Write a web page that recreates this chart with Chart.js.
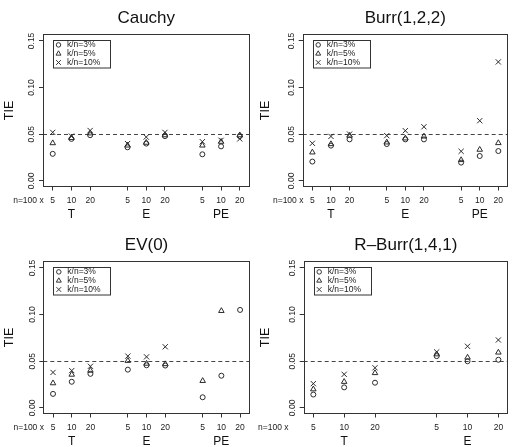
<!DOCTYPE html>
<html>
<head>
<meta charset="utf-8">
<script src="https://cdn.jsdelivr.net/npm/chart.js@4.4.1/dist/chart.umd.min.js"></script>
<style>
  body { margin: 0; background: #fff; }
  #wrap { position: relative; width: 513px; height: 447px; }
  canvas { position: absolute; }
</style>
</head>
<body>
<div id="wrap">
  <canvas id="cauchy" width="256" height="224" style="left:0;top:0"></canvas>
  <canvas id="burr" width="257" height="224" style="left:256px;top:0"></canvas>
  <canvas id="ev" width="256" height="220" style="left:0;top:227px"></canvas>
  <canvas id="rburr" width="257" height="220" style="left:256px;top:227px"></canvas>
</div>
<script>
const methods = ['T', 'E', 'PE']
const sampleSizes = ['5', '10', '20']
const seriesNames = ['k/n=3%', 'k/n=5%', 'k/n=10%']
const yTickValues = [0, 0.05, 0.10, 0.15]
const nominalLevel = 0.05

// order: T5 T10 T20 E5 E10 E20 PE5 PE10 PE20
const cauchy3 = [0.029, 0.045, 0.049, 0.036, 0.040, 0.048, 0.0285, 0.037, 0.048]
const cauchy5 = [0.0405, 0.046, 0.051, 0.038, 0.041, 0.049, 0.038, 0.042, 0.049]
const cauchy10 = [0.052, 0.048, 0.054, 0.040, 0.047, 0.052, 0.042, 0.0435, 0.045]

const burr3 = [0.0207, 0.0378, 0.0445, 0.0395, 0.0445, 0.0445, 0.0196, 0.0267, 0.032]
const burr5 = [0.0306, 0.0395, 0.0485, 0.0413, 0.0456, 0.0477, 0.0224, 0.0335, 0.0406]
const burr10 = [0.0403, 0.0477, 0.0502, 0.0485, 0.0538, 0.058, 0.0317, 0.0645, 0.1275]

const ev3 = [0.015, 0.028, 0.0365, 0.041, 0.0457, 0.0454, 0.0114, 0.0345, 0.105]
const ev5 = [0.0265, 0.0357, 0.040, 0.0505, 0.0475, 0.047, 0.029, 0.104, null]
const ev10 = [0.038, 0.040, 0.0446, 0.0555, 0.0547, 0.0655, null, null, null]

// order: T5 T10 T20 E5 E10 E20
const rburr3 = [0.0143, 0.022, 0.027, 0.0555, 0.050, 0.0516]
const rburr5 = [0.020, 0.028, 0.0374, 0.0575, 0.054, 0.0594]
const rburr10 = [0.026, 0.036, 0.043, 0.060, 0.066, 0.0728]

Chart.defaults.font.family = '"Liberation Sans", Arial, Helvetica, sans-serif'
Chart.defaults.color = '#222'

const markStyles = [
  { pointStyle: 'circle', radius: 2.5 },
  { pointStyle: 'triangle', radius: 3.2 },
  { pointStyle: 'crossRot', radius: 3.7 }
]

// position on the x scale: groups of three with a gap of one
function xPos(g, k) { return g * 4 + k + 1 }

const rPlot = {
  id: 'rPlot',
  beforeDatasetsDraw(chart) {
    const { ctx, chartArea } = chart
    const y = chart.scales.y.getPixelForValue(nominalLevel)
    ctx.save()
    ctx.strokeStyle = '#444'
    ctx.lineWidth = 1
    ctx.setLineDash([4, 3])
    ctx.beginPath()
    ctx.moveTo(chartArea.left, Math.round(y) + 0.5)
    ctx.lineTo(chartArea.right, Math.round(y) + 0.5)
    ctx.stroke()
    ctx.restore()
  },
  afterDraw(chart) {
    const { ctx, chartArea } = chart
    const ys = chart.scales.y
    const xs = chart.scales.x
    ctx.save()
    // plot box
    ctx.strokeStyle = '#333'
    ctx.lineWidth = 1
    const l = Math.round(chartArea.left) + 0.5
    const t = Math.round(chartArea.top) + 0.5
    const r = Math.round(chartArea.right) - 0.5
    const b = Math.round(chartArea.bottom) - 0.5
    ctx.strokeRect(l, t, r - l, b - t)

    // rotated y tick labels
    ctx.fillStyle = '#222'
    ctx.font = '8.5px "Liberation Sans", Arial, sans-serif'
    ctx.textAlign = 'center'
    ctx.textBaseline = 'middle'
    ys.ticks.forEach(tk => {
      const py = ys.getPixelForValue(tk.value)
      ctx.save()
      ctx.translate(chartArea.left - 11, py)
      ctx.rotate(-Math.PI / 2)
      ctx.fillText(tk.label || tk.value.toFixed(2), 0, 0)
      ctx.restore()
    })

    // sample size prefix
    ctx.textBaseline = 'top'
    ctx.fillText('n=100 x', xs.getPixelForValue(-0.3), xs.top + 9.5)

    // legend
    const lx = chartArea.left + 10
    const ly = chartArea.top + 5.5
    ctx.strokeRect(Math.round(lx) + 0.5, Math.round(ly) + 0.5, 57, 27.5)
    ctx.textAlign = 'left'
    ctx.textBaseline = 'middle'
    chart.data.datasets.forEach((ds, i) => {
      const cy = ly + 5 + i * 8.8
      ctx.strokeStyle = '#333'
      ctx.fillStyle = 'rgba(0,0,0,0)'
      ctx.lineWidth = 1
      Chart.helpers.drawPoint(ctx, { pointStyle: ds.pointStyle, radius: ds.pointRadius * 0.9, borderWidth: 1, rotation: 0 }, lx + 5.5, cy)
      ctx.fillStyle = '#222'
      ctx.fillText(ds.label, lx + 14, cy)
    })
    ctx.restore()
  }
}

function makePanel(id, title, groups, series, yAxisWidth) {
  const canvas = document.getElementById(id)
  const last = groups.length * 4 - 1
  const pad = 0.052 * (last - 1)
  const datasets = series.map((vals, s) => {
    const pts = []
    vals.forEach((v, i) => {
      if (v === null) return
      pts.push({ x: xPos(Math.floor(i / 3), i % 3), y: v })
    })
    return {
      label: seriesNames[s],
      data: pts,
      pointStyle: markStyles[s].pointStyle,
      pointRadius: markStyles[s].radius,
      pointBorderWidth: 1,
      pointBorderColor: '#2a2a2a',
      pointBackgroundColor: 'rgba(0,0,0,0)',
      showLine: false
    }
  })
  const bottomSpace = canvas.height - 186.5

  return new Chart(canvas, {
    type: 'scatter',
    data: { datasets },
    options: {
      responsive: false,
      animation: false,
      devicePixelRatio: 1,
      events: [],
      layout: { padding: { left: 0, right: canvas.width - 249.5 - (yAxisWidth - 43), top: 0, bottom: 0 } },
      plugins: {
        legend: { display: false },
        tooltip: { enabled: false },
        title: {
          display: true,
          text: title,
          fullSize: false,
          color: '#111',
          font: { size: 17, weight: 'normal' },
          padding: { top: 8, bottom: 6 }
        }
      },
      scales: {
        x: {
          type: 'linear',
          position: 'bottom',
          weight: 0,
          min: 1 - pad,
          max: last + pad,
          afterBuildTicks: s => {
            const tks = []
            groups.forEach((g, gi) => sampleSizes.forEach((n, k) => tks.push({ value: xPos(gi, k) })))
            s.ticks = tks
          },
          afterFit: s => { s.height = 20 },
          grid: { drawOnChartArea: false, drawTicks: true, tickLength: 4, color: '#333' },
          border: { display: false },
          ticks: {
            autoSkip: false,
            maxRotation: 0,
            padding: 5.5,
            font: { size: 8.5 },
            color: '#222',
            callback: v => sampleSizes[(v - 1) % 4]
          }
        },
        x2: {
          type: 'linear',
          position: 'bottom',
          weight: 1,
          min: 1 - pad,
          max: last + pad,
          afterBuildTicks: s => {
            s.ticks = groups.map((g, gi) => ({ value: xPos(gi, 1) }))
          },
          afterFit: s => { s.height = bottomSpace - 20 },
          grid: { display: false, drawTicks: false },
          border: { display: false },
          ticks: {
            autoSkip: false,
            maxRotation: 0,
            padding: 1,
            font: { size: 12 },
            color: '#111',
            callback: v => groups[(v - 2) / 4]
          }
        },
        y: {
          type: 'linear',
          min: -0.006,
          max: 0.157,
          afterBuildTicks: s => { s.ticks = yTickValues.map(v => ({ value: v })) },
          afterFit: s => { s.width = yAxisWidth },
          grid: { drawOnChartArea: false, drawTicks: true, tickLength: 4, color: '#333' },
          border: { display: false },
          ticks: { display: false, callback: v => v.toFixed(2) },
          title: {
            display: true,
            text: 'TIE',
            color: '#111',
            font: { size: 12.5 },
            padding: { top: 2, bottom: 0 }
          }
        }
      }
    },
    plugins: [rPlot]
  })
}

makePanel('cauchy', 'Cauchy', methods, [cauchy3, cauchy5, cauchy10], 43)
makePanel('burr', 'Burr(1,2,2)', methods, [burr3, burr5, burr10], 46.7)
makePanel('ev', 'EV(0)', methods, [ev3, ev5, ev10], 43.3)
makePanel('rburr', 'R\u2013Burr(1,4,1)', methods.slice(0, 2), [rburr3, rburr5, rburr10], 47.7)
</script>
</body>
</html>
